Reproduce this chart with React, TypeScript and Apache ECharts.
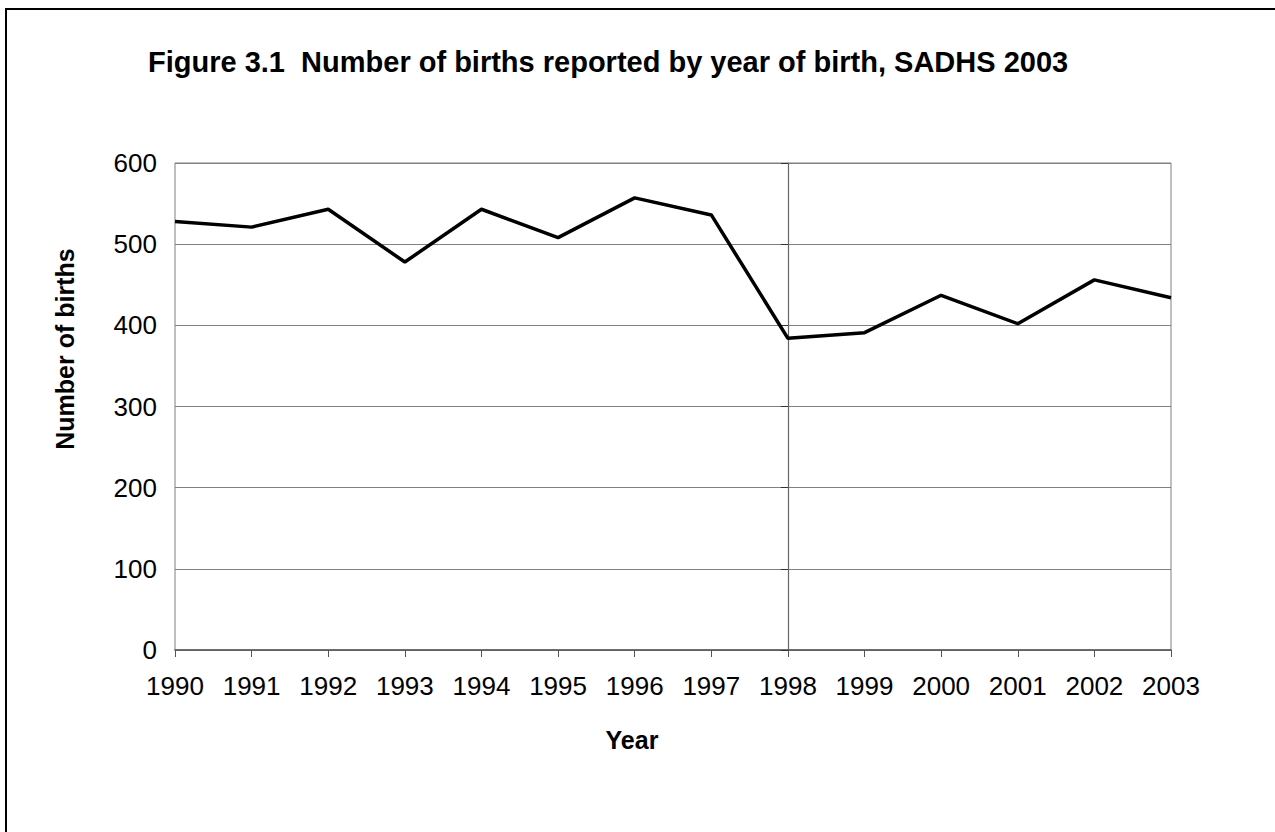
import React, { useEffect, useRef } from "react";
import * as echarts from "echarts";

const years = ["1990", "1991", "1992", "1993", "1994", "1995", "1996", "1997", "1998", "1999", "2000", "2001", "2002", "2003"];
const births = [528, 521, 543, 478, 543, 508, 557, 536, 384, 391, 437, 402, 456, 434];
const yTicks = { min: 0, max: 600, interval: 100 };
const titleText = "Figure 3.1  Number of births reported by year of birth, SADHS 2003";
const xName = "Year";
const yName = "Number of births";
const crossYear = "1998";

const FONT = "'Liberation Sans', Arial, Helvetica, sans-serif";

export default function App() {
  const ref = useRef<HTMLDivElement>(null);
  useEffect(() => {
    if (!ref.current) return;
    const chart = echarts.init(ref.current, null, { renderer: "svg" });
    const gridLeft = 175;
    const gridRight = 1171;
    const crossIdx = years.indexOf(crossYear);
    const crossX = gridLeft + ((gridRight - gridLeft) * crossIdx) / (years.length - 1);
    chart.setOption({
      animation: false,
      backgroundColor: "#ffffff",
      textStyle: { fontFamily: FONT },
      title: {
        text: titleText,
        left: 148,
        top: 47,
        padding: 0,
        textStyle: { fontFamily: FONT, fontSize: 29, fontWeight: "bold", color: "#000" },
      },
      grid: {
        left: gridLeft,
        right: 1275 - gridRight,
        top: 163,
        bottom: 832 - 650,
        show: true,
        borderColor: "#808080",
        borderWidth: 1,
        backgroundColor: "transparent",
      },
      xAxis: {
        type: "category",
        data: years,
        boundaryGap: false,
        axisLine: { show: true, lineStyle: { color: "#555", width: 1.5 } },
        axisTick: { show: true, length: 7, lineStyle: { color: "#555" } },
        axisLabel: { fontFamily: FONT, fontSize: 26, color: "#000", margin: 23, interval: 0 },
        splitLine: { show: false },
      },
      yAxis: [
        {
          type: "value",
          min: yTicks.min,
          max: yTicks.max,
          interval: yTicks.interval,
          axisLine: { show: false },
          axisTick: { show: false },
          axisLabel: { fontFamily: FONT, fontSize: 26, color: "#000", margin: 18 },
          splitLine: { show: true, lineStyle: { color: "#808080", width: 1 } },
        },
        {
          type: "value",
          position: "left",
          offset: -(crossX - gridLeft),
          min: yTicks.min,
          max: yTicks.max,
          interval: yTicks.interval,
          axisLine: { show: true, lineStyle: { color: "#666", width: 1.2 } },
          axisTick: { show: true, length: 7, lineStyle: { color: "#333" } },
          axisLabel: { show: false },
          splitLine: { show: false },
        },
      ],
      series: [
        {
          type: "line",
          data: births,
          yAxisIndex: 0,
          showSymbol: false,
          symbol: "none",
          lineStyle: { color: "#000", width: 3.5 },
          z: 5,
        },
      ],
      graphic: [
        {
          type: "rect",
          shape: { x: 6, y: 9, width: 1400, height: 1000 },
          style: { fill: "none", stroke: "#000", lineWidth: 2 },
          silent: true,
        },
        {
          type: "text",
          x: 632,
          y: 740,
          style: {
            text: xName,
            font: `bold 25px ${FONT}`,
            fill: "#000",
            textAlign: "center",
            textVerticalAlign: "middle",
          },
        },
        {
          type: "text",
          x: 65,
          y: 349,
          rotation: Math.PI / 2,
          style: {
            text: yName,
            font: `bold 25px ${FONT}`,
            fill: "#000",
            textAlign: "center",
            textVerticalAlign: "middle",
          },
        },
      ],
    });
    return () => chart.dispose();
  }, []);
  return (
    <div
      ref={ref}
      style={{ position: "fixed", left: 0, top: 0, width: 1275, height: 832, background: "#fff" }}
    />
  );
}
